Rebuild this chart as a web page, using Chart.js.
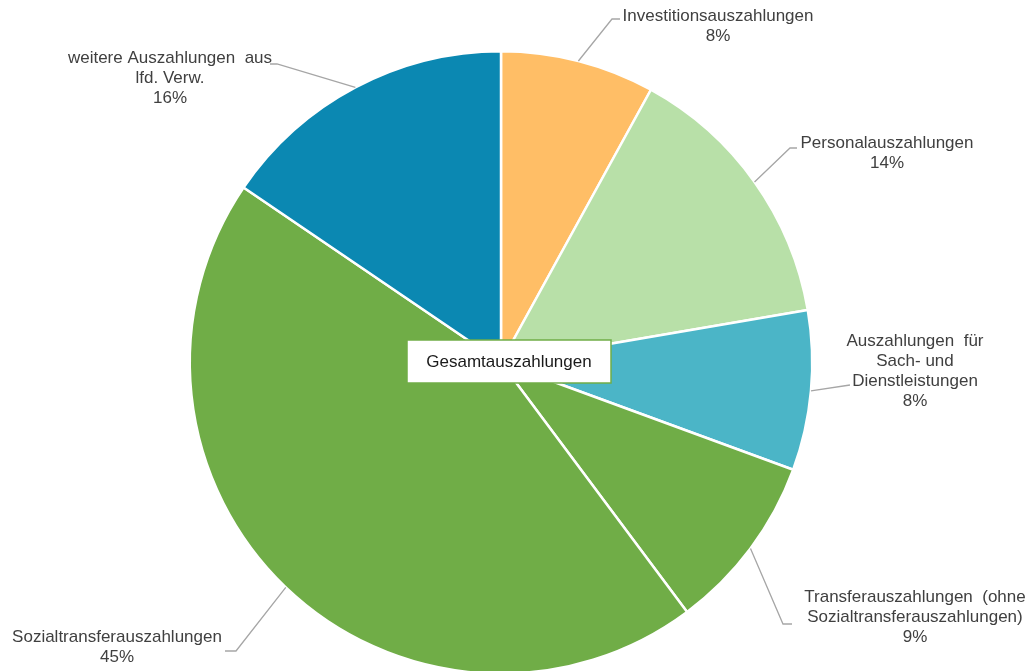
<!DOCTYPE html>
<html>
<head>
<meta charset="utf-8">
<script src="https://cdn.jsdelivr.net/npm/chart.js@4"></script>
<style>
  html, body { margin: 0; padding: 0; background: #fff; }
  #wrap { width: 1035px; height: 671px; position: relative; overflow: hidden; }
</style>
</head>
<body>
<div id="wrap"><canvas id="pieChart" width="1035" height="680"></canvas></div>
<script>
/* ================= DATA ================= */
const categories = [
    ["Investitionsauszahlungen"],
    ["Personalauszahlungen"],
    ["Auszahlungen  für", "Sach- und", "Dienstleistungen"],
    ["Transferauszahlungen  (ohne", "Sozialtransferauszahlungen)"],
    ["Sozialtransferauszahlungen"],
    ["weitere Auszahlungen  aus", "lfd. Verw."]
];
const shares = [8.0, 14.3, 8.3, 9.2, 44.7, 15.5];
const sliceColors = ["#FFBE66", "#B8E0A8", "#4BB5C7", "#70AD47", "#70AD47", "#0B88B2"];
const centerTitle = "Gesamtauszahlungen";

/* label layout: text center x, first line y, elbow x/y, end of leader x */
const labelLayout = [
    { x: 718, y: 16, ex: 612, ey: 19, lx: 620 },
    { x: 887, y: 143, ex: 790, ey: 148, lx: 797 },
    { x: 915, y: 341, ex: 850, ey: 385, lx: 850 },
    { x: 915, y: 597, ex: 783, ey: 624, lx: 792 },
    { x: 117, y: 637, ex: 236, ey: 651, lx: 225 },
    { x: 170, y: 58, ex: 277, ey: 64, lx: 270 }
];

const FONT = "17px 'Liberation Sans', Arial, sans-serif";

/* ================= PLUGINS ================= */
const outsideLabels = {
    id: "outsideLabels",
    afterDatasetsDraw(chart) {
        const ctx = chart.ctx;
        const meta = chart.getDatasetMeta(0);
        const total = shares.reduce((a, b) => a + b, 0);
        ctx.save();
        meta.data.forEach((arc, i) => {
            const p = arc.getProps(["x", "y", "startAngle", "endAngle", "outerRadius"], true);
            const mid = (p.startAngle + p.endAngle) / 2;
            const sx = p.x + Math.cos(mid) * p.outerRadius;
            const sy = p.y + Math.sin(mid) * p.outerRadius;
            const L = labelLayout[i];

            ctx.strokeStyle = "#A6A6A6";
            ctx.lineWidth = 1.3;
            ctx.beginPath();
            ctx.moveTo(sx, sy);
            ctx.lineTo(L.ex, L.ey);
            ctx.lineTo(L.lx, L.ey);
            ctx.stroke();

            const lines = categories[i].concat([Math.round(shares[i] / total * 100) + "%"]);
            ctx.fillStyle = "#404040";
            ctx.font = FONT;
            ctx.textAlign = "center";
            ctx.textBaseline = "middle";
            lines.forEach((t, k) => ctx.fillText(t, L.x, L.y + k * 20));
        });

        // center title box
        const bx = 407, by = 340, bw = 204, bh = 43;
        ctx.fillStyle = "#fff";
        ctx.fillRect(bx, by, bw, bh);
        ctx.strokeStyle = "#70AD47";
        ctx.lineWidth = 1.5;
        ctx.strokeRect(bx, by, bw, bh);
        ctx.fillStyle = "#1a1a1a";
        ctx.font = FONT;
        ctx.textAlign = "center";
        ctx.textBaseline = "middle";
        ctx.fillText(centerTitle, bx + bw / 2, by + bh / 2 + 1);
        ctx.restore();
    }
};

/* ================= CHART ================= */
new Chart(document.getElementById("pieChart").getContext("2d"), {
    type: "pie",
    data: {
        labels: categories.map(c => c.join(" ")),
        datasets: [{
            data: shares,
            backgroundColor: sliceColors,
            borderColor: "#ffffff",
            borderWidth: 2.5
        }]
    },
    options: {
        responsive: false,
        animation: false,
        layout: { padding: { top: 50, bottom: 5, left: 0, right: 33 } },
        plugins: {
            legend: { display: false },
            tooltip: { enabled: false }
        }
    },
    plugins: [outsideLabels]
});
</script>
</body>
</html>
